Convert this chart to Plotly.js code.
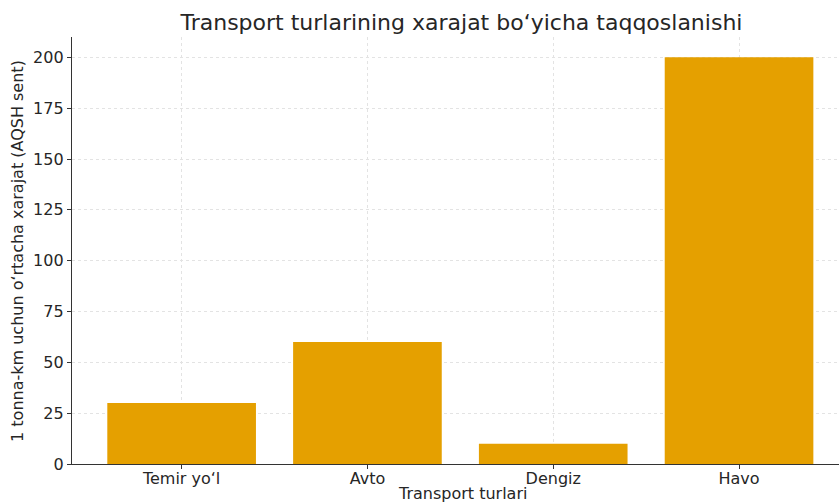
<!DOCTYPE html>
<html><head><meta charset="utf-8">
<script src="https://cdn.plot.ly/plotly-3.0.1.min.js"></script>
<style>html,body{margin:0;padding:0;background:#fff}#c{width:839px;height:503px}</style>
</head><body><div id="c"></div>
<script>
const categories = ["Temir yo‘l", "Avto", "Dengiz", "Havo"];
const values = [30, 60, 10, 200];
const yTicks = [0, 25, 50, 75, 100, 125, 150, 175, 200];
const titleText = "Transport turlarining xarajat bo‘yicha taqqoslanishi";
const xTitle = "Transport turlari";
const yTitle = "1 tonna-km uchun o‘rtacha xarajat (AQSH sent)";

Plotly.newPlot("c", [{
  type: "bar", x: [0,1,2,3], y: values, width: 0.8,
  marker: {color: "#E5A000"}, hoverinfo: "none"
}], {
  width: 839, height: 503,
  margin: {l: 72, r: 0, t: 37, b: 39, pad: 0},
  paper_bgcolor: "#fff", plot_bgcolor: "#fff",
  font: {family: "DejaVu Sans", size: 16, color: "#262626"},
  title: {text: titleText, font: {family: "DejaVu Sans", size: 22, color: "#262626"}, x: 0.55, xanchor: "center", y: 0.956, yanchor: "middle"},
  xaxis: {
    range: [-0.59, 3.538], tickmode: "array", tickvals: [0,1,2,3], ticktext: categories,
    showgrid: true, gridcolor: "#e3e3e3", griddash: "dot", gridwidth: 1,
    showline: true, linecolor: "#333", linewidth: 1.2,
    ticks: "outside", ticklen: 4, tickcolor: "#333", tickfont: {size: 16},
    ticklabelstandoff: -4,
    zeroline: false
  },
  yaxis: {
    range: [0, 210], tickmode: "array", tickvals: yTicks, ticktext: yTicks.map(String),
    showgrid: true, gridcolor: "#e3e3e3", griddash: "dot", gridwidth: 1,
    showline: true, linecolor: "#333", linewidth: 1.2,
    ticks: "outside", ticklen: 4, tickcolor: "#333", tickfont: {size: 16},
    zeroline: false
  },
  annotations: [
    {text: xTitle, xref: "paper", yref: "paper", x: 0.5085, y: -0.068, xanchor: "center", yanchor: "middle", showarrow: false, font: {size: 16}},
    {text: yTitle, xref: "paper", yref: "paper", x: -0.0704, y: 0.499, xanchor: "center", yanchor: "middle", textangle: -90, showarrow: false, font: {size: 16}}
  ],
  showlegend: false, bargap: 0.2
}, {staticPlot: true});
</script></body></html>
